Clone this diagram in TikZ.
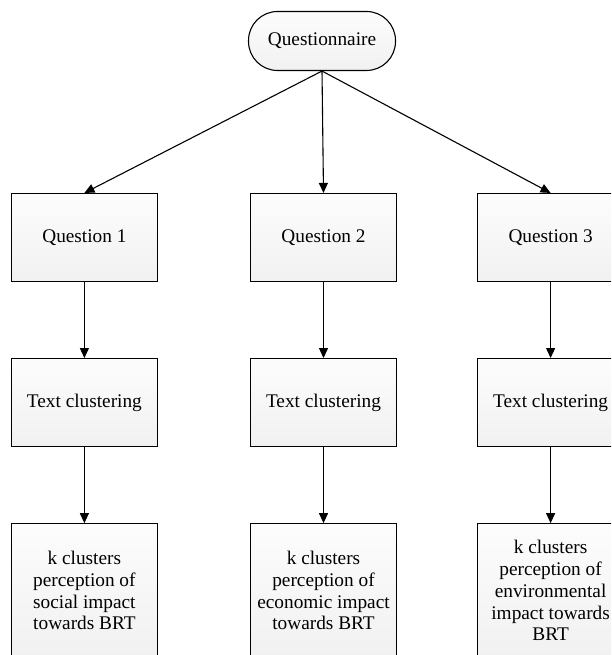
\documentclass[tikz,border=0pt]{standalone}
\usepackage{fontspec}
\setmainfont{Liberation Serif}
\usetikzlibrary{positioning, arrows.meta}

\tikzset{
  box/.style={draw, line width=1.1pt, top color=gray!2, bottom color=gray!11,
    minimum width=146pt, minimum height=88pt, align=center,
    font=\fontsize{19.3}{21.7}\selectfont},
  startbox/.style={box, rounded corners=29pt, minimum width=147pt, minimum height=59pt},
  resultbox/.style={box, minimum height=134pt},
  link/.style={-{Triangle[length=10pt,width=9pt]}, line width=1.1pt}
}

\begin{document}
\begin{tikzpicture}[x=1pt, y=1pt, node distance=76pt]
        \clip (0,0) rectangle (611,-655);
        \node[startbox]  (Q)  at (322,-41)          {Questionnaire};
        \node[box]       (q2) at (323.5,-237.5)     {Question 2};
        \node[box]       (q1) [left=92pt of q2]     {Question 1};
        \node[box]       (q3) [right=80pt of q2]    {Question 3};

        \node[box]       (t1) [below=of q1] {Text clustering};
        \node[box]       (t2) [below=of q2] {Text clustering};
        \node[box]       (t3) [below=of q3] {Text clustering};

        \node[resultbox] (k1) [below=of t1] {k clusters\\perception of\\social impact\\towards BRT};
        \node[resultbox] (k2) [below=of t2] {k clusters\\perception of\\economic impact\\towards BRT};
        \node[resultbox] (k3) [below=of t3] {k clusters\\perception of\\environmental\\impact towards\\BRT};

        \foreach \i in {1,2,3} {
          \draw[link] (Q.south) -- (q\i.north);
          \draw[link] (q\i) -- (t\i);
          \draw[link] (t\i) -- (k\i);
        }
      \end{tikzpicture}
\end{document}
